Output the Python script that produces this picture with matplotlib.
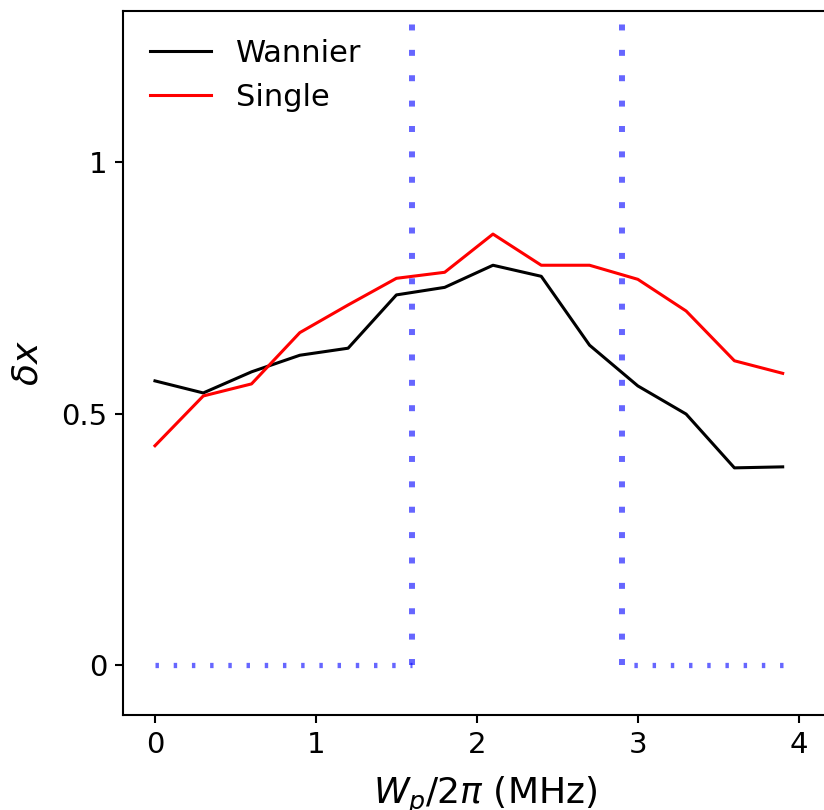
import numpy as np
import matplotlib
matplotlib.use("Agg")
import matplotlib.pyplot as plt

# data
wp = [0.0, 0.3, 0.6, 0.9, 1.2, 1.5, 1.8, 2.1, 2.4, 2.7, 3.0, 3.3, 3.6, 3.9]
wannier = [0.565, 0.541, 0.583, 0.616, 0.630, 0.736, 0.751, 0.795, 0.773,
           0.636, 0.555, 0.499, 0.392, 0.394]
single = [0.436, 0.535, 0.559, 0.661, 0.716, 0.769, 0.781, 0.857, 0.795,
          0.795, 0.767, 0.704, 0.605, 0.580]

# guide lines (dotted blue): horizontal parts and vertical parts
cut_lo = 1.6
cut_hi = 2.9
x_first = 0.0
x_last = 3.9
y_base = 0.0
y_top = 1.3

yticks = [0, 0.5, 1]
yticklabels = ['0', '0.5', '1']
xticks = [0, 1, 2, 3, 4]

fig = plt.figure(figsize=(8.24, 8.10), dpi=100)
# right spine falls outside the picture, as in the cropped original
ax = fig.add_axes([0.149, 0.117, 0.879, 0.869])

# vertical dotted lines
ax.plot([cut_lo, cut_lo], [y_base, y_top], color='b', alpha=0.6, lw=4.3, dashes=(1, 3.25))
ax.plot([cut_hi, cut_hi], [y_base, y_top], color='b', alpha=0.6, lw=4.3, dashes=(1, 3.25))
# horizontal dotted lines
ax.plot([x_first, cut_lo], [y_base, y_base], color='b', alpha=0.6, lw=3.8, dashes=(0.65, 2.8))
ax.plot([x_last, cut_hi], [y_base, y_base], color='b', alpha=0.6, lw=3.8, dashes=(0.65, 2.8))

ax.plot(wp, wannier, color='k', lw=2.2, label='Wannier')
ax.plot(wp, single, color='r', lw=2.2, label='Single')

ax.set_xlim(-0.2, 4.3)
ax.set_ylim(-0.1, 1.3)
ax.set_xticks(xticks)
ax.set_yticks(yticks)
ax.set_yticklabels(yticklabels)
ax.tick_params(labelsize=21, width=1.5, length=6, pad=5)
for s in ax.spines.values():
    s.set_linewidth(1.5)

ax.set_xlabel(r'$W_p/2\pi$ (MHz)', fontsize=26, labelpad=12)
ax.set_ylabel(r'$\delta x$', fontsize=26, labelpad=12)
ax.legend(loc='upper left', frameon=False, fontsize=22)

fig.savefig('out.png', dpi=100)
